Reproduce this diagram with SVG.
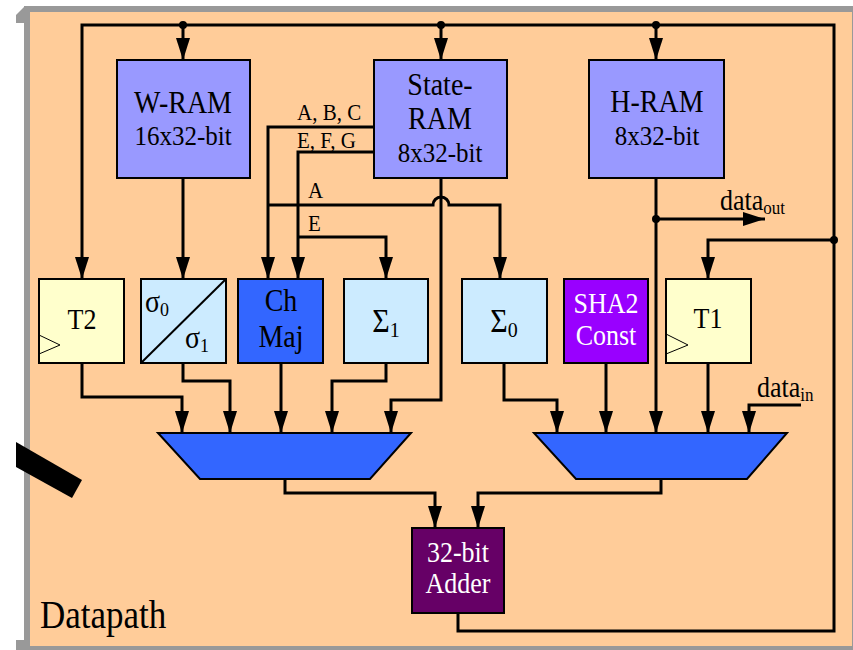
<svg xmlns="http://www.w3.org/2000/svg" width="853" height="650" viewBox="0 0 853 650" font-family="'Liberation Serif', 'Times New Roman', Times, serif">
<style>
text{font-family:'Liberation Serif','Times New Roman',Times,serif;fill:#000}
.c{text-anchor:middle}
.w{fill:#fff}
.box{stroke:#000;stroke-width:2}
.ram{fill:#9999FF}
.lb{fill:#CCEBFF}
.ty{fill:#FFFFCC}
.wire{fill:none;stroke:#000;stroke-width:3}
.arr{marker-end:url(#ah)}
.clk{fill:none;stroke:#000;stroke-width:1}
</style>
<defs>
<marker id="ah" markerUnits="userSpaceOnUse" markerWidth="22" markerHeight="14" refX="22" refY="7" orient="auto">
<path d="M0,0 L22,7 L0,14 z" fill="#000"/>
</marker>
</defs>
<g id="frame">
<rect x="24" y="6" width="829" height="644" fill="#999999"/>
<polygon points="16,15 25,6 25,23 16,23" fill="#999999"/>
<polygon points="16,640 24,640 24,650 16,650" fill="#999999"/>
<rect x="30" y="12" width="822" height="634" fill="#FFCC99"/>
<polygon points="16,442 82,480 72,498 16,467" fill="#000"/>
<text x="40" y="628" font-size="35" transform="matrix(1 0 0 1.15 0 -94.2)">Datapath</text>
</g>
<g id="connectors">
<path class="wire arr" d="M458,613 V631 H834 V25 H82 V279"/>
<path class="wire arr" d="M183,25 V60"/>
<path class="wire arr" d="M441,25 V60"/>
<path class="wire arr" d="M656,25 V60"/>
<path class="wire arr" d="M834,240 H708 V279"/>
<path class="wire arr" d="M183,178 V279"/>
<path class="wire arr" d="M374,127 H268 V279"/>
<path class="wire arr" d="M374,152 H298 V279"/>
<path class="wire arr" d="M268,205 H433 A8,8 0 0 1 449,205 H500 V279"/>
<path class="wire arr" d="M298,237 H386 V279"/>
<path class="wire arr" d="M441,178 V400 H391 V433"/>
<path class="wire arr" d="M656,178 V433"/>
<path class="wire arr" d="M656,219 H765"/>
<path class="wire arr" d="M82,363 V397 H182 V433"/>
<path class="wire arr" d="M183,363 V381 H230 V433"/>
<path class="wire arr" d="M281,363 V433"/>
<path class="wire arr" d="M386,363 V381 H332 V433"/>
<path class="wire arr" d="M504,363 V400 H557 V433"/>
<path class="wire arr" d="M606,363 V433"/>
<path class="wire arr" d="M708,363 V433"/>
<path class="wire arr" d="M801,405 H749 V433"/>
<path class="wire arr" d="M285,479 V493 H435 V528"/>
<path class="wire arr" d="M661,479 V493 H478 V528"/>
<circle cx="183" cy="25" r="4"/>
<circle cx="441" cy="25" r="4"/>
<circle cx="656" cy="25" r="4"/>
<circle cx="834" cy="240" r="4"/>
<circle cx="656" cy="219" r="4"/>
<text x="297" y="120" font-size="21" transform="matrix(1 0 0 1.1 0 -12)">A, B, C</text>
<text x="297" y="148" font-size="21" transform="matrix(1 0 0 1.1 0 -14.8)">E, F, G</text>
<text x="308" y="198" font-size="21" transform="matrix(1 0 0 1.1 0 -19.8)">A</text>
<text x="308" y="231" font-size="21" transform="matrix(1 0 0 1.1 0 -23.1)">E</text>
<text x="720" y="210" font-size="26" transform="matrix(1 0 0 1.1 0 -21)">data<tspan font-size="17" dy="4">out</tspan></text>
<text x="757" y="397" font-size="26" transform="matrix(1 0 0 1.1 0 -39.7)">data<tspan font-size="17" dy="4">in</tspan></text>
</g>
<g id="wram">
<rect class="box ram" x="117" y="60" width="133" height="118"/>
<text class="c" x="183" y="113" font-size="28" transform="matrix(1 0 0 1.1 0 -11.3)">W-RAM</text>
<text class="c" x="183" y="145" font-size="25" transform="matrix(1 0 0 1.1 0 -14.5)">16x32-bit</text>
</g>
<g id="stateram">
<rect class="box ram" x="374" y="60" width="133" height="118"/>
<text class="c" x="440" y="95" font-size="28" transform="matrix(1 0 0 1.1 0 -9.5)">State-</text>
<text class="c" x="440" y="129" font-size="28" transform="matrix(1 0 0 1.1 0 -12.9)">RAM</text>
<text class="c" x="440" y="162" font-size="25" transform="matrix(1 0 0 1.1 0 -16.2)">8x32-bit</text>
</g>
<g id="hram">
<rect class="box ram" x="589" y="60" width="135" height="118"/>
<text class="c" x="657" y="112" font-size="28" transform="matrix(1 0 0 1.1 0 -11.2)">H-RAM</text>
<text class="c" x="657" y="145" font-size="25" transform="matrix(1 0 0 1.1 0 -14.5)">8x32-bit</text>
</g>
<g id="t2">
<rect class="box ty" x="39" y="279" width="85" height="84"/>
<polyline class="clk" points="39,335 60,345 39,354"/>
<text class="c" x="82" y="329" font-size="26" transform="matrix(1 0 0 1.1 0 -32.9)">T2</text>
</g>
<g id="sigma">
<rect class="box lb" x="141" y="279" width="85" height="84"/>
<line x1="141" y1="363" x2="226" y2="279" stroke="#000" stroke-width="2"/>
<text x="145" y="312" font-size="28" transform="matrix(1 0 0 1.1 0 -31.2)">σ<tspan font-size="18" dy="4">0</tspan></text>
<text x="185" y="348" font-size="28" transform="matrix(1 0 0 1.1 0 -34.8)">σ<tspan font-size="18" dy="4">1</tspan></text>
</g>
<g id="chmaj">
<rect class="box" x="238" y="279" width="85" height="84" fill="#3366FF"/>
<text class="c" x="281" y="311" font-size="28" transform="matrix(1 0 0 1.1 0 -31.1)">Ch</text>
<text class="c" x="281" y="347" font-size="28" transform="matrix(1 0 0 1.1 0 -34.7)">Maj</text>
</g>
<g id="bigsigma1">
<rect class="box lb" x="344" y="279" width="84" height="84"/>
<text class="c" x="386" y="332" font-size="30" transform="matrix(1 0 0 1.1 0 -33.2)">Σ<tspan font-size="20" dy="5">1</tspan></text>
</g>
<g id="bigsigma0">
<rect class="box lb" x="462" y="279" width="85" height="84"/>
<text class="c" x="504" y="332" font-size="30" transform="matrix(1 0 0 1.1 0 -33.2)">Σ<tspan font-size="20" dy="5">0</tspan></text>
</g>
<g id="sha2">
<rect class="box" x="564" y="279" width="84" height="84" fill="#9900FF"/>
<text class="c w" x="606" y="313" font-size="26" transform="matrix(1 0 0 1.1 0 -31.3)">SHA2</text>
<text class="c w" x="606" y="345" font-size="26" transform="matrix(1 0 0 1.1 0 -34.5)">Const</text>
</g>
<g id="t1">
<rect class="box ty" x="666" y="279" width="85" height="84"/>
<polyline class="clk" points="666,334 688,345 666,354"/>
<text class="c" x="708" y="328" font-size="26" transform="matrix(1 0 0 1.1 0 -32.8)">T1</text>
</g>
<g id="mux1">
<polygon class="box" points="158,433 411,433 370,479 200,479" fill="#3366FF"/>
</g>
<g id="mux2">
<polygon class="box" points="534,433 787,433 747,479 576,479" fill="#3366FF"/>
</g>
<g id="adder">
<rect class="box" x="412" y="528" width="92" height="85" fill="#660066"/>
<text class="c w" x="458" y="562" font-size="26" transform="matrix(1 0 0 1.1 0 -56.2)">32-bit</text>
<text class="c w" x="458" y="593" font-size="26" transform="matrix(1 0 0 1.1 0 -59.3)">Adder</text>
</g>
</svg>
